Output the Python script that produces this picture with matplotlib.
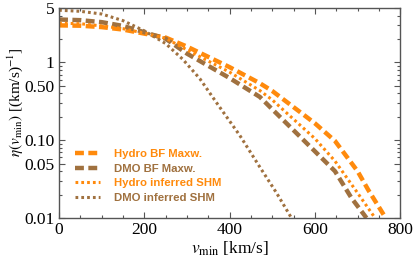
import matplotlib
matplotlib.use("Agg")
import matplotlib.pyplot as plt
from matplotlib.ticker import FixedLocator, FixedFormatter, MultipleLocator, LogLocator, NullFormatter

plt.rcParams["font.family"] = ["Liberation Serif", "DejaVu Serif"]
plt.rcParams["mathtext.fontset"] = "stix"

# values
v_hydro_bf = [0, 50, 100, 150, 200, 250, 300, 400, 471, 500, 600, 647, 700, 725, 766]
eta_hydro_bf = [3.0, 2.97, 2.85, 2.65, 2.35, 2.09, 1.6, 0.87, 0.54, 0.43, 0.165, 0.098, 0.04, 0.023, 0.01]

v_dmo_bf = [0, 50, 100, 150, 200, 250, 300, 400, 471, 500, 600, 647, 686, 721]
eta_dmo_bf = [3.57, 3.5, 3.3, 2.95, 2.45, 2.02, 1.3, 0.63, 0.36, 0.25, 0.072, 0.040, 0.018, 0.01]

v_hydro_shm = [0, 50, 100, 150, 200, 250, 300, 400, 471, 500, 600, 647, 700, 741]
eta_hydro_shm = [3.2, 3.15, 2.95, 2.72, 2.38, 2.05, 1.45, 0.75, 0.435, 0.33, 0.105, 0.054, 0.021, 0.01]

v_dmo_shm = [0, 50, 100, 150, 200, 250, 290, 330, 370, 424, 471, 510, 545]
eta_dmo_shm = [4.7, 4.55, 4.2, 3.45, 2.55, 1.75, 1.1, 0.62, 0.30, 0.115, 0.045, 0.021, 0.01]

labels = ["Hydro BF Maxw.", "DMO BF Maxw.", "Hydro inferred SHM", "DMO inferred SHM"]
y_ticks = [0.01, 0.05, 0.1, 0.5, 1, 5]
y_tick_labels = ["0.01", "0.05", "0.10", "0.50", "1", "5"]

orange = "#FF8A0C"
brown = "#A0713F"
frame = "#555555"

fig = plt.figure(figsize=(4.13, 2.62), dpi=100)
ax = fig.add_axes([0.143, 0.168, 0.826, 0.801])

ax.plot(v_hydro_bf, eta_hydro_bf, color=orange, lw=3.2, dashes=(2.0, 1.0), label=labels[0])
ax.plot(v_dmo_bf, eta_dmo_bf, color=brown, lw=3.2, dashes=(2.0, 1.0), label=labels[1])
ax.plot(v_hydro_shm, eta_hydro_shm, color=orange, lw=2.2, dashes=(0.9, 1.0), label=labels[2])
ax.plot(v_dmo_shm, eta_dmo_shm, color=brown, lw=2.2, dashes=(0.9, 1.0), label=labels[3])

ax.set_yscale("log")
ax.set_xlim(0, 800)
ax.set_ylim(0.01, 5)

ax.xaxis.set_major_locator(MultipleLocator(200))
ax.xaxis.set_minor_locator(MultipleLocator(50))
ax.yaxis.set_major_locator(FixedLocator(y_ticks))
ax.yaxis.set_major_formatter(FixedFormatter(y_tick_labels))
ax.yaxis.set_minor_locator(LogLocator(base=10, subs=[2, 3, 4, 6, 7, 8, 9]))
ax.yaxis.set_minor_formatter(NullFormatter())

ax.tick_params(which="both", direction="in", top=True, right=True, colors=frame,
               labelcolor="black", labelsize=12.5, width=0.8)
ax.tick_params(which="major", length=4)
ax.tick_params(which="minor", length=2.2)
ax.tick_params(axis="x", pad=3)
for s in ax.spines.values():
    s.set_color(frame)
    s.set_linewidth(1.0)

ax.set_xlabel(r"$v_{\rm min}$ [km/s]", fontsize=12.5, labelpad=1)
ax.set_ylabel(r"$\eta(v_{\rm min})$ [(km/s)$^{-1}$]", fontsize=11, labelpad=0)
ax.yaxis.set_label_coords(-0.1, 0.55)

leg = ax.legend(loc="center left", bbox_to_anchor=(0.03, 0.2), frameon=False,
                prop={"family": ["Liberation Sans", "DejaVu Sans"], "weight": "bold", "size": 8.2},
                handlelength=2.2, handletextpad=1.2, labelspacing=0.4, borderpad=0)
for t, c in zip(leg.get_texts(), [orange, brown, orange, brown]):
    t.set_color(c)

fig.savefig("out.png", dpi=100)
